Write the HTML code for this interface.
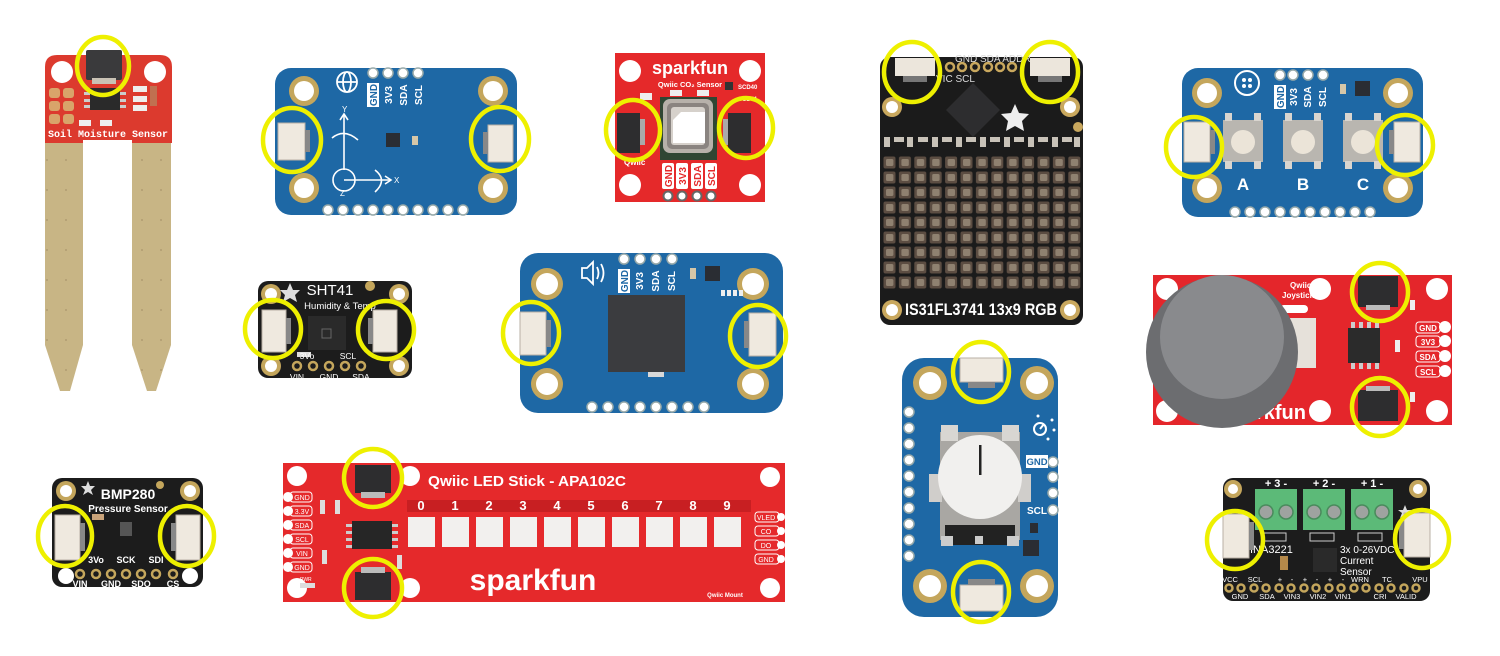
<!DOCTYPE html>
<html><head><meta charset="utf-8"><style>
html,body{margin:0;padding:0;background:#fff;width:1500px;height:656px;overflow:hidden;}
svg{display:block;}
text{font-family:"Liberation Sans",sans-serif;}
.mono{font-family:"Liberation Mono",monospace;}
</style></head><body>
<svg width="1500" height="656" viewBox="0 0 1500 656" xmlns="http://www.w3.org/2000/svg">
<defs>
 <pattern id="led" x="882" y="155" width="15.4" height="15" patternUnits="userSpaceOnUse">
   <rect x="1.5" y="1.5" width="12" height="12" rx="2" fill="#5c4d42"/>
   <rect x="4" y="4" width="7.4" height="7" rx="1.5" fill="#8f8170"/>
 </pattern>
 <pattern id="dots" x="0" y="0" width="19" height="30" patternUnits="userSpaceOnUse">
   <circle cx="9" cy="10" r="0.9" fill="#a8946a"/>
 </pattern>
</defs>
<rect width="1500" height="656" fill="#fff"/>

<!-- 1 Soil moisture sensor -->
<g>
 <polygon points="45,140 83,140 83,345 70,391 60,391 45,345" fill="#c8b585"/>
 <polygon points="132,140 171,140 171,345 156,391 147,391 132,345" fill="#c8b585"/>
 <polygon points="45,140 83,140 83,345 70,391 60,391 45,345" fill="url(#dots)"/>
 <polygon points="132,140 171,140 171,345 156,391 147,391 132,345" fill="url(#dots)"/>
 <path d="M45,67 Q45,55 57,55 L160,55 Q172,55 172,67 L172,143 L132,143 L132,140 L83,140 L83,143 L45,143 Z" fill="#dc3a2e"/>
 <circle cx="62" cy="72" r="11" fill="#fff"/>
 <circle cx="155" cy="72" r="11" fill="#fff"/>
 <rect x="86" y="50" width="36" height="30" rx="2" fill="#3a3a3c"/>
 <rect x="92" y="78" width="24" height="6" fill="#c9c2b5"/>
 <rect x="90" y="88" width="30" height="22" fill="#2a2a2a"/>
 <rect x="84" y="92" width="6" height="3" fill="#ccc"/><rect x="84" y="99" width="6" height="3" fill="#ccc"/><rect x="84" y="105" width="6" height="3" fill="#ccc"/>
 <rect x="120" y="92" width="6" height="3" fill="#ccc"/><rect x="120" y="99" width="6" height="3" fill="#ccc"/><rect x="120" y="105" width="6" height="3" fill="#ccc"/>
 <rect x="49" y="88" width="11" height="10" rx="3" fill="#d9a46a"/><rect x="63" y="88" width="11" height="10" rx="3" fill="#d9a46a"/>
 <rect x="49" y="101" width="11" height="10" rx="3" fill="#d9a46a"/><rect x="63" y="101" width="11" height="10" rx="3" fill="#d9a46a"/>
 <rect x="49" y="114" width="11" height="10" rx="3" fill="#d9a46a"/><rect x="63" y="114" width="11" height="10" rx="3" fill="#d9a46a"/>
 <rect x="133" y="86" width="14" height="6" fill="#eee"/><rect x="133" y="96" width="14" height="6" fill="#eee"/><rect x="133" y="105" width="14" height="6" fill="#eee"/>
 <rect x="150" y="86" width="7" height="20" fill="#c07050"/>
 <rect x="79" y="120" width="12" height="6" fill="#eee"/><rect x="100" y="120" width="12" height="6" fill="#eee"/>
 <text x="108" y="137" class="mono" font-size="10" font-weight="bold" fill="#fff" text-anchor="middle">Soil Moisture Sensor</text>
 <ellipse cx="103" cy="66" rx="26" ry="29" fill="none" stroke="#eef000" stroke-width="4.5"/>
</g>

<!-- 2 IMU blue board -->
<g>
 <rect x="275" y="68" width="242" height="147" rx="16" fill="#1e68a5"/>
 <g fill="#c4a65c"><circle cx="304" cy="91" r="15"/><circle cx="493" cy="91" r="15"/><circle cx="304" cy="188" r="15"/><circle cx="493" cy="188" r="15"/></g>
 <g fill="#fff"><circle cx="304" cy="91" r="10"/><circle cx="493" cy="91" r="10"/><circle cx="304" cy="188" r="10"/><circle cx="493" cy="188" r="10"/></g>
 <g fill="#fff" stroke="#9aa" stroke-width="1.5"><circle cx="373" cy="73" r="5"/><circle cx="388" cy="73" r="5"/><circle cx="403" cy="73" r="5"/><circle cx="418" cy="73" r="5"/></g>
 <g transform="translate(373,95) rotate(-90)"><rect x="-12" y="-6" width="24" height="12" fill="#fff"/><text x="0" y="4" font-size="10" font-weight="bold" fill="#1e68a5" text-anchor="middle">GND</text></g>
 <text transform="translate(392,95) rotate(-90)" font-size="10" font-weight="bold" fill="#fff" text-anchor="middle">3V3</text>
 <text transform="translate(407,95) rotate(-90)" font-size="10" font-weight="bold" fill="#fff" text-anchor="middle">SDA</text>
 <text transform="translate(422,95) rotate(-90)" font-size="10" font-weight="bold" fill="#fff" text-anchor="middle">SCL</text>
 <g fill="none" stroke="#fff" stroke-width="1.8"><circle cx="347" cy="82" r="10"/><ellipse cx="347" cy="82" rx="4" ry="10"/><line x1="337" y1="82" x2="357" y2="82"/></g>
 <g fill="none" stroke="#fff" stroke-width="1.6">
  <line x1="344" y1="170" x2="344" y2="115"/><polyline points="340,120 344,114 348,120"/>
  <line x1="344" y1="180" x2="390" y2="180"/><polyline points="385,176 391,180 385,184"/>
  <path d="M332,138 Q344,128 358,140"/>
  <circle cx="344" cy="180" r="11"/>
  <path d="M375,170 Q388,180 375,192"/>
 </g>
 <text x="342" y="112" font-size="8" fill="#fff">Y</text><text x="394" y="183" font-size="8" fill="#fff">X</text><text x="340" y="196" font-size="8" fill="#fff">Z</text>
 <rect x="386" y="133" width="14" height="14" fill="#2a2d33"/>
 <rect x="412" y="136" width="6" height="9" fill="#d6c7a8"/>
 <g fill="#fff" stroke="#9aa" stroke-width="1.5"><circle cx="328" cy="210" r="5"/><circle cx="343" cy="210" r="5"/><circle cx="358" cy="210" r="5"/><circle cx="373" cy="210" r="5"/><circle cx="388" cy="210" r="5"/><circle cx="403" cy="210" r="5"/><circle cx="418" cy="210" r="5"/><circle cx="433" cy="210" r="5"/><circle cx="448" cy="210" r="5"/><circle cx="463" cy="210" r="5"/></g>
 <rect x="278" y="123" width="27" height="37" fill="#efe9df" stroke="#b9b0a4"/>
 <rect x="305" y="130" width="5" height="22" fill="#888"/>
 <rect x="488" y="125" width="25" height="37" fill="#efe9df" stroke="#b9b0a4"/>
 <rect x="483" y="132" width="5" height="22" fill="#888"/>
 <ellipse cx="292" cy="140" rx="29" ry="32" fill="none" stroke="#eef000" stroke-width="4.5"/>
 <ellipse cx="500" cy="139" rx="29" ry="32" fill="none" stroke="#eef000" stroke-width="4.5"/>
</g>

<!-- 3 SparkFun CO2 sensor -->
<g>
 <rect x="615" y="53" width="150" height="149" fill="#e5292a"/>
 <g fill="#fff"><circle cx="630" cy="71" r="11"/><circle cx="750" cy="71" r="11"/><circle cx="630" cy="185" r="11"/><circle cx="750" cy="185" r="11"/></g>
 <text x="690" y="74" font-size="18" font-weight="bold" fill="#fff" text-anchor="middle">sparkfun</text>
 <text x="690" y="87" font-size="7.5" font-weight="bold" fill="#fff" text-anchor="middle">Qwiic CO₂ Sensor</text>
 <rect x="725" y="82" width="8" height="8" fill="#333"/>
 <text x="738" y="89" font-size="6" font-weight="bold" fill="#fff">SCD40</text>
 <text x="738" y="101" font-size="6" font-weight="bold" fill="#fff">SCD41</text>
 <rect x="660" y="97" width="57" height="63" fill="#2f4633"/>
 <rect x="663" y="99" width="50" height="54" rx="7" fill="#b7b1aa"/>
 <rect x="667" y="103" width="42" height="46" rx="5" fill="#8a8480"/>
 <rect x="671" y="107" width="34" height="38" rx="3" fill="#d6d1cb"/>
 <polygon points="681,112 705,112 705,143 673,143 673,120" fill="#fff"/>
 <rect x="640" y="93" width="12" height="7" fill="#eee"/><rect x="670" y="90" width="12" height="6" fill="#eee"/><rect x="697" y="90" width="12" height="6" fill="#eee"/>
 <rect x="617" y="113" width="23" height="40" fill="#2d2d2f"/>
 <rect x="640" y="119" width="5" height="26" fill="#aaa"/>
 <rect x="728" y="113" width="23" height="40" fill="#2d2d2f"/>
 <rect x="723" y="119" width="5" height="26" fill="#aaa"/>
 <text x="624" y="165" font-size="8" font-weight="bold" fill="#fff">Qwiic</text>
 <g transform="translate(668,176) rotate(-90)"><rect x="-13" y="-6" width="26" height="12" rx="2" fill="#fff"/><text x="0" y="4" font-size="10" font-weight="bold" fill="#e5292a" text-anchor="middle">GND</text></g>
 <g transform="translate(682,176) rotate(-90)"><rect x="-13" y="-6" width="26" height="12" rx="2" fill="#fff"/><text x="0" y="4" font-size="10" font-weight="bold" fill="#e5292a" text-anchor="middle">3V3</text></g>
 <g transform="translate(697,176) rotate(-90)"><rect x="-13" y="-6" width="26" height="12" rx="2" fill="#fff"/><text x="0" y="4" font-size="10" font-weight="bold" fill="#e5292a" text-anchor="middle">SDA</text></g>
 <g transform="translate(711,176) rotate(-90)"><rect x="-13" y="-6" width="26" height="12" rx="2" fill="#fff"/><text x="0" y="4" font-size="10" font-weight="bold" fill="#e5292a" text-anchor="middle">SCL</text></g>
 <g fill="#fff" stroke="#666" stroke-width="2"><circle cx="668" cy="196" r="4.5"/><circle cx="682" cy="196" r="4.5"/><circle cx="697" cy="196" r="4.5"/><circle cx="711" cy="196" r="4.5"/></g>
 <ellipse cx="633" cy="130" rx="27" ry="30" fill="none" stroke="#eef000" stroke-width="4.5"/>
 <ellipse cx="746" cy="128" rx="27" ry="30" fill="none" stroke="#eef000" stroke-width="4.5"/>
</g>

<!-- 4 LED matrix -->
<g>
 <rect x="880" y="57" width="203" height="268" rx="10" fill="#1b1b1b"/>
 <rect x="882" y="155" width="200" height="135" fill="url(#led)"/>
 <g fill="#c8c2b8">
  <rect x="884" y="137" width="6" height="10"/><rect x="894" y="137" width="10" height="5"/><rect x="907" y="137" width="6" height="10"/><rect x="918" y="137" width="10" height="5"/><rect x="932" y="137" width="6" height="10"/><rect x="942" y="137" width="10" height="5"/><rect x="956" y="137" width="6" height="10"/><rect x="966" y="137" width="10" height="5"/><rect x="980" y="137" width="6" height="10"/><rect x="990" y="137" width="10" height="5"/><rect x="1004" y="137" width="6" height="10"/><rect x="1014" y="137" width="10" height="5"/><rect x="1028" y="137" width="6" height="10"/><rect x="1038" y="137" width="10" height="5"/><rect x="1052" y="137" width="6" height="10"/><rect x="1062" y="137" width="10" height="5"/><rect x="1074" y="137" width="6" height="10"/>
 </g>
 <polygon points="973,83 1000,110 973,137 946,110" fill="#2d2d2f"/>
 <polygon points="1015,104 1019,113 1029,114 1022,121 1024,131 1015,126 1006,131 1008,121 1001,114 1011,113" fill="#eee"/>
 <g fill="#c9a85e"><circle cx="892" cy="107" r="10"/><circle cx="1070" cy="107" r="10"/><circle cx="892" cy="310" r="10"/><circle cx="1070" cy="310" r="10"/></g>
 <g fill="#fff"><circle cx="892" cy="107" r="6"/><circle cx="1070" cy="107" r="6"/><circle cx="892" cy="310" r="6"/><circle cx="1070" cy="310" r="6"/></g>
 <circle cx="1078" cy="127" r="5" fill="#c9a85e"/>
 <g fill="none" stroke="#c9a85e" stroke-width="2.5"><circle cx="950" cy="67" r="4"/><circle cx="962" cy="67" r="4"/><circle cx="975" cy="67" r="4"/><circle cx="988" cy="67" r="4"/><circle cx="1000" cy="67" r="4"/><circle cx="1012" cy="67" r="4"/></g>
 <text x="955" y="62" font-size="10" fill="#ddd">GND  SDA ADDR</text>
 <text x="936" y="82" font-size="10" fill="#ddd">VIC  SCL</text>
 <rect x="895" y="58" width="40" height="18" fill="#ece6dc"/>
 <rect x="903" y="76" width="24" height="6" fill="#777"/>
 <rect x="1030" y="58" width="40" height="18" fill="#ece6dc"/>
 <rect x="1038" y="76" width="24" height="6" fill="#777"/>
 <text x="981" y="315" font-size="17" font-weight="bold" fill="#fff" text-anchor="middle" textLength="152" lengthAdjust="spacingAndGlyphs">IS31FL3741 13x9 RGB</text>
 <ellipse cx="912" cy="72" rx="28" ry="30" fill="none" stroke="#eef000" stroke-width="4.5"/>
 <ellipse cx="1050" cy="72" rx="28" ry="30" fill="none" stroke="#eef000" stroke-width="4.5"/>
</g>

<!-- 5 Buttons blue board -->
<g>
 <rect x="1182" y="68" width="241" height="149" rx="16" fill="#1e68a5"/>
 <g fill="#c4a65c"><circle cx="1207" cy="93" r="15"/><circle cx="1398" cy="93" r="15"/><circle cx="1207" cy="188" r="15"/><circle cx="1398" cy="188" r="15"/></g>
 <g fill="#fff"><circle cx="1207" cy="93" r="10"/><circle cx="1398" cy="93" r="10"/><circle cx="1207" cy="188" r="10"/><circle cx="1398" cy="188" r="10"/></g>
 <g fill="none" stroke="#fff" stroke-width="2"><circle cx="1247" cy="83" r="12"/></g>
 <g fill="#fff"><circle cx="1244" cy="80" r="2"/><circle cx="1250" cy="80" r="2"/><circle cx="1244" cy="86" r="2"/><circle cx="1250" cy="86" r="2"/></g>
 <g fill="#fff" stroke="#9aa" stroke-width="1.5"><circle cx="1280" cy="75" r="5"/><circle cx="1293" cy="75" r="5"/><circle cx="1308" cy="75" r="5"/><circle cx="1323" cy="75" r="5"/></g>
 <g transform="translate(1280,97) rotate(-90)"><rect x="-12" y="-6" width="24" height="12" fill="#fff"/><text x="0" y="4" font-size="10" font-weight="bold" fill="#1e68a5" text-anchor="middle">GND</text></g>
 <text transform="translate(1297,97) rotate(-90)" font-size="10" font-weight="bold" fill="#fff" text-anchor="middle">3V3</text>
 <text transform="translate(1311,97) rotate(-90)" font-size="10" font-weight="bold" fill="#fff" text-anchor="middle">SDA</text>
 <text transform="translate(1326,97) rotate(-90)" font-size="10" font-weight="bold" fill="#fff" text-anchor="middle">SCL</text>
 <rect x="1355" y="81" width="15" height="15" fill="#2a2d33"/>
 <rect x="1340" y="84" width="6" height="10" fill="#d6c7a8"/>
 <g fill="#b9b6b0">
  <rect x="1223" y="120" width="40" height="42"/><rect x="1283" y="120" width="40" height="42"/><rect x="1343" y="120" width="40" height="42"/>
 </g>
 <g fill="#d9d5cf">
  <rect x="1225" y="113" width="7" height="8"/><rect x="1254" y="113" width="7" height="8"/><rect x="1225" y="161" width="7" height="8"/><rect x="1254" y="161" width="7" height="8"/>
  <rect x="1285" y="113" width="7" height="8"/><rect x="1314" y="113" width="7" height="8"/><rect x="1285" y="161" width="7" height="8"/><rect x="1314" y="161" width="7" height="8"/>
  <rect x="1345" y="113" width="7" height="8"/><rect x="1374" y="113" width="7" height="8"/><rect x="1345" y="161" width="7" height="8"/><rect x="1374" y="161" width="7" height="8"/>
 </g>
 <g fill="#ebe4d8"><circle cx="1243" cy="142" r="12"/><circle cx="1303" cy="142" r="12"/><circle cx="1363" cy="142" r="12"/></g>
 <text x="1243" y="190" font-size="17" font-weight="bold" fill="#fff" text-anchor="middle">A</text>
 <text x="1303" y="190" font-size="17" font-weight="bold" fill="#fff" text-anchor="middle">B</text>
 <text x="1363" y="190" font-size="17" font-weight="bold" fill="#fff" text-anchor="middle">C</text>
 <g fill="#fff" stroke="#9aa" stroke-width="1.5"><circle cx="1235" cy="212" r="5"/><circle cx="1250" cy="212" r="5"/><circle cx="1265" cy="212" r="5"/><circle cx="1280" cy="212" r="5"/><circle cx="1295" cy="212" r="5"/><circle cx="1310" cy="212" r="5"/><circle cx="1325" cy="212" r="5"/><circle cx="1340" cy="212" r="5"/><circle cx="1355" cy="212" r="5"/><circle cx="1370" cy="212" r="5"/></g>
 <rect x="1184" y="122" width="26" height="40" fill="#efe9df" stroke="#b9b0a4"/>
 <rect x="1210" y="130" width="5" height="24" fill="#888"/>
 <rect x="1394" y="122" width="26" height="40" fill="#efe9df" stroke="#b9b0a4"/>
 <rect x="1389" y="130" width="5" height="24" fill="#888"/>
 <ellipse cx="1194" cy="147" rx="28" ry="30" fill="none" stroke="#eef000" stroke-width="4.5"/>
 <ellipse cx="1405" cy="145" rx="28" ry="30" fill="none" stroke="#eef000" stroke-width="4.5"/>
</g>

<!-- 6 SHT41 -->
<g>
 <rect x="258" y="281" width="154" height="97" rx="10" fill="#1c1c1c"/>
 <g fill="#c4a65c"><circle cx="271" cy="294" r="10"/><circle cx="399" cy="294" r="10"/><circle cx="271" cy="366" r="10"/><circle cx="399" cy="366" r="10"/></g>
 <g fill="#fff"><circle cx="271" cy="294" r="6"/><circle cx="399" cy="294" r="6"/><circle cx="271" cy="366" r="6"/><circle cx="399" cy="366" r="6"/></g>
 <circle cx="370" cy="286" r="5" fill="#c4a65c"/>
 <polygon points="290,283 293,290 300,290 295,295 297,302 290,298 283,302 285,295 280,290 287,290" fill="#ddd"/>
 <text x="330" y="295" font-size="15" fill="#fff" text-anchor="middle">SHT41</text>
 <text x="340" y="309" font-size="9.5" fill="#fff" text-anchor="middle">Humidity &amp; Temp</text>
 <rect x="308" y="316" width="38" height="34" fill="#2a2a2a"/>
 <rect x="322" y="329" width="9" height="9" fill="none" stroke="#666"/>
 <rect x="297" y="352" width="14" height="5" fill="#ddd"/>
 <rect x="262" y="310" width="24" height="42" fill="#efe9df" stroke="#b9b0a4"/>
 <rect x="286" y="318" width="5" height="26" fill="#888"/>
 <rect x="373" y="310" width="24" height="42" fill="#efe9df" stroke="#b9b0a4"/>
 <rect x="368" y="318" width="5" height="26" fill="#888"/>
 <text x="307" y="359" font-size="8.5" fill="#fff" text-anchor="middle">3Vo</text>
 <text x="348" y="359" font-size="8.5" fill="#fff" text-anchor="middle">SCL</text>
 <g fill="#1c1c1c" stroke="#c4a65c" stroke-width="2.5"><circle cx="297" cy="366" r="4"/><circle cx="313" cy="366" r="4"/><circle cx="329" cy="366" r="4"/><circle cx="345" cy="366" r="4"/><circle cx="361" cy="366" r="4"/></g>
 <text x="297" y="380" font-size="8.5" fill="#fff" text-anchor="middle">VIN</text>
 <text x="329" y="380" font-size="8.5" fill="#fff" text-anchor="middle">GND</text>
 <text x="361" y="380" font-size="8.5" fill="#fff" text-anchor="middle">SDA</text>
 <ellipse cx="273" cy="329" rx="28" ry="29" fill="none" stroke="#eef000" stroke-width="4.5"/>
 <ellipse cx="386" cy="330" rx="28" ry="29" fill="none" stroke="#eef000" stroke-width="4.5"/>
</g>

<!-- 7 Speaker blue board -->
<g>
 <rect x="520" y="253" width="263" height="160" rx="18" fill="#1e68a5"/>
 <g fill="#c4a65c"><circle cx="547" cy="284" r="16"/><circle cx="753" cy="284" r="16"/><circle cx="547" cy="384" r="16"/><circle cx="753" cy="384" r="16"/></g>
 <g fill="#fff"><circle cx="547" cy="284" r="11"/><circle cx="753" cy="284" r="11"/><circle cx="547" cy="384" r="11"/><circle cx="753" cy="384" r="11"/></g>
 <g fill="none" stroke="#fff" stroke-width="1.8"><polygon points="582,268 587,268 593,262 593,284 587,278 582,278"/><path d="M597,267 Q600,273 597,279"/><path d="M601,264 Q606,273 601,282"/></g>
 <g fill="#fff" stroke="#9aa" stroke-width="1.5"><circle cx="624" cy="259" r="5"/><circle cx="640" cy="259" r="5"/><circle cx="656" cy="259" r="5"/><circle cx="672" cy="259" r="5"/></g>
 <g transform="translate(624,281) rotate(-90)"><rect x="-12" y="-6" width="24" height="12" fill="#fff"/><text x="0" y="4" font-size="10" font-weight="bold" fill="#1e68a5" text-anchor="middle">GND</text></g>
 <text transform="translate(643,281) rotate(-90)" font-size="10" font-weight="bold" fill="#fff" text-anchor="middle">3V3</text>
 <text transform="translate(659,281) rotate(-90)" font-size="10" font-weight="bold" fill="#fff" text-anchor="middle">SDA</text>
 <text transform="translate(675,281) rotate(-90)" font-size="10" font-weight="bold" fill="#fff" text-anchor="middle">SCL</text>
 <rect x="705" y="266" width="15" height="15" fill="#2a2d33"/>
 <rect x="690" y="268" width="6" height="11" fill="#d6c7a8"/>
 <g fill="#eee"><rect x="721" y="290" width="4" height="6"/><rect x="727" y="290" width="4" height="6"/><rect x="733" y="290" width="4" height="6"/><rect x="739" y="290" width="4" height="6"/></g>
 <rect x="608" y="295" width="77" height="77" fill="#3b3c3f"/>
 <rect x="648" y="372" width="16" height="5" fill="#d8d8d8"/>
 <g fill="#fff" stroke="#9aa" stroke-width="1.5"><circle cx="592" cy="407" r="5"/><circle cx="608" cy="407" r="5"/><circle cx="624" cy="407" r="5"/><circle cx="640" cy="407" r="5"/><circle cx="656" cy="407" r="5"/><circle cx="672" cy="407" r="5"/><circle cx="688" cy="407" r="5"/><circle cx="704" cy="407" r="5"/></g>
 <rect x="520" y="312" width="26" height="43" fill="#efe9df" stroke="#b9b0a4"/>
 <rect x="546" y="320" width="5" height="27" fill="#888"/>
 <rect x="749" y="313" width="27" height="43" fill="#efe9df" stroke="#b9b0a4"/>
 <rect x="744" y="321" width="5" height="27" fill="#888"/>
 <ellipse cx="531" cy="333" rx="28" ry="31" fill="none" stroke="#eef000" stroke-width="4.5"/>
 <ellipse cx="758" cy="336" rx="28" ry="31" fill="none" stroke="#eef000" stroke-width="4.5"/>
</g>

<!-- 8 Rotary encoder -->
<g>
 <rect x="902" y="358" width="156" height="259" rx="22" fill="#1e68a5"/>
 <g fill="#c4a65c"><circle cx="930" cy="383" r="17"/><circle cx="1037" cy="383" r="17"/><circle cx="930" cy="586" r="17"/><circle cx="1037" cy="586" r="17"/></g>
 <g fill="#fff"><circle cx="930" cy="383" r="11"/><circle cx="1037" cy="383" r="11"/><circle cx="930" cy="586" r="11"/><circle cx="1037" cy="586" r="11"/></g>
 <g fill="#fff" stroke="#9aa" stroke-width="1.5"><circle cx="909" cy="412" r="5"/><circle cx="909" cy="428" r="5"/><circle cx="909" cy="444" r="5"/><circle cx="909" cy="460" r="5"/><circle cx="909" cy="476" r="5"/><circle cx="909" cy="492" r="5"/><circle cx="909" cy="508" r="5"/><circle cx="909" cy="524" r="5"/><circle cx="909" cy="540" r="5"/><circle cx="909" cy="556" r="5"/>
 <circle cx="1053" cy="462" r="5"/><circle cx="1053" cy="477" r="5"/><circle cx="1053" cy="493" r="5"/><circle cx="1053" cy="510" r="5"/></g>
 <rect x="1026" y="455" width="22" height="13" fill="#fff"/>
 <text x="1037" y="465" font-size="9.5" font-weight="bold" fill="#1e68a5" text-anchor="middle">GND</text>
 <text x="1037" y="514" font-size="10" font-weight="bold" fill="#fff" text-anchor="middle">SCL</text>
 <g fill="none" stroke="#fff" stroke-width="2"><circle cx="1040" cy="429" r="6"/><line x1="1040" y1="429" x2="1044" y2="424"/></g>
 <g fill="#fff"><circle cx="1052" cy="420" r="1.5"/><circle cx="1054" cy="430" r="1.5"/><circle cx="1048" cy="439" r="1.5"/><circle cx="1038" cy="416" r="1.5"/></g>
 <rect x="940" y="432" width="80" height="108" fill="#a9a7a3"/>
 <rect x="941" y="425" width="17" height="16" fill="#d8d6d2"/><rect x="1002" y="425" width="17" height="16" fill="#d8d6d2"/>
 <rect x="929" y="474" width="13" height="28" fill="#d0cecb"/><rect x="1018" y="474" width="13" height="28" fill="#d0cecb"/>
 <rect x="945" y="525" width="70" height="20" fill="#222"/>
 <g fill="#ccc"><rect x="941" y="536" width="12" height="10"/><rect x="975" y="536" width="8" height="8"/><rect x="1007" y="536" width="12" height="10"/></g>
 <circle cx="980" cy="477" r="42" fill="#f1f0ee"/>
 <rect x="979" y="445" width="2.5" height="30" fill="#222"/>
 <rect x="1023" y="540" width="16" height="16" fill="#2a2d33"/>
 <rect x="1030" y="523" width="8" height="10" fill="#2a2d33"/>
 <rect x="960" y="358" width="43" height="24" fill="#efe9df" stroke="#b9b0a4"/>
 <rect x="968" y="382" width="27" height="6" fill="#888"/>
 <rect x="960" y="585" width="43" height="26" fill="#efe9df" stroke="#b9b0a4"/>
 <rect x="968" y="579" width="27" height="6" fill="#888"/>
 <ellipse cx="981" cy="372" rx="28" ry="30" fill="none" stroke="#eef000" stroke-width="4.5"/>
 <ellipse cx="981" cy="592" rx="28" ry="30" fill="none" stroke="#eef000" stroke-width="4.5"/>
</g>

<!-- 9 Joystick -->
<g>
 <rect x="1153" y="275" width="299" height="150" fill="#e4262b"/>
 <g fill="#fff"><circle cx="1167" cy="289" r="11"/><circle cx="1320" cy="289" r="11"/><circle cx="1437" cy="289" r="11"/><circle cx="1167" cy="411" r="11"/><circle cx="1320" cy="411" r="11"/><circle cx="1437" cy="411" r="11"/></g>
 <text x="1290" y="288" font-size="8" font-weight="bold" fill="#fff">Qwiic</text>
 <text x="1282" y="298" font-size="8" font-weight="bold" fill="#fff">Joystick</text>
 <rect x="1280" y="305" width="28" height="8" rx="4" fill="#fff"/>
 <rect x="1290" y="318" width="26" height="50" fill="#e6e1da"/>
 <text x="1306" y="419" font-size="20" font-weight="bold" fill="#fff" text-anchor="end">sparkfun</text>
 <circle cx="1222" cy="352" r="76" fill="#6c6d70"/>
 <circle cx="1222" cy="337" r="62" fill="#898a8d"/>
 <rect x="1358" y="276" width="40" height="31" fill="#2d2d2f"/>
 <rect x="1366" y="305" width="24" height="5" fill="#bbb"/>
 <rect x="1348" y="328" width="32" height="35" fill="#2b2b2b"/>
 <g fill="#ccc"><rect x="1351" y="322" width="4" height="6"/><rect x="1359" y="322" width="4" height="6"/><rect x="1367" y="322" width="4" height="6"/><rect x="1375" y="322" width="4" height="6"/><rect x="1351" y="363" width="4" height="6"/><rect x="1359" y="363" width="4" height="6"/><rect x="1367" y="363" width="4" height="6"/><rect x="1375" y="363" width="4" height="6"/></g>
 <rect x="1358" y="390" width="40" height="31" fill="#2d2d2f"/>
 <rect x="1366" y="386" width="24" height="5" fill="#bbb"/>
 <g fill="#e4262b" stroke="#fff" stroke-width="1"><rect x="1416" y="322" width="24" height="11" rx="3"/><rect x="1416" y="336" width="24" height="11" rx="3"/><rect x="1416" y="351" width="24" height="11" rx="3"/><rect x="1416" y="366" width="24" height="11" rx="3"/></g>
 <g font-size="8" font-weight="bold" fill="#fff" text-anchor="middle"><text x="1428" y="331">GND</text><text x="1428" y="345">3V3</text><text x="1428" y="360">SDA</text><text x="1428" y="375">SCL</text></g>
 <g fill="#fff"><circle cx="1445" cy="327" r="6"/><circle cx="1445" cy="341" r="6"/><circle cx="1445" cy="356" r="6"/><circle cx="1445" cy="371" r="6"/></g>
 <g fill="#eee"><rect x="1410" y="300" width="5" height="10"/><rect x="1410" y="392" width="5" height="10"/><rect x="1395" y="340" width="5" height="12"/></g>
 <ellipse cx="1380" cy="292" rx="28" ry="29" fill="none" stroke="#eef000" stroke-width="4.5"/>
 <ellipse cx="1380" cy="407" rx="28" ry="29" fill="none" stroke="#eef000" stroke-width="4.5"/>
</g>

<!-- 10 BMP280 -->
<g>
 <rect x="52" y="478" width="151" height="109" rx="10" fill="#1c1c1c"/>
 <g fill="#c4a65c"><circle cx="66" cy="491" r="10"/><circle cx="190" cy="491" r="10"/></g>
 <g fill="#fff"><circle cx="66" cy="491" r="6"/><circle cx="190" cy="491" r="6"/><circle cx="66" cy="576" r="8"/><circle cx="190" cy="576" r="8"/></g>
 <circle cx="160" cy="485" r="4" fill="#c4a65c"/>
 <polygon points="88,481 90,486 95,486 91,490 93,495 88,492 83,495 85,490 81,486 86,486" fill="#ddd"/>
 <text x="128" y="499" font-size="14" font-weight="bold" fill="#fff" text-anchor="middle">BMP280</text>
 <text x="128" y="512" font-size="10" font-weight="bold" fill="#fff" text-anchor="middle">Pressure Sensor</text>
 <rect x="120" y="522" width="12" height="14" fill="#555"/>
 <rect x="92" y="514" width="12" height="6" fill="#c9a37a"/>
 <rect x="55" y="515" width="25" height="45" fill="#efe9df" stroke="#b9b0a4"/>
 <rect x="80" y="523" width="5" height="28" fill="#888"/>
 <rect x="176" y="515" width="24" height="45" fill="#efe9df" stroke="#b9b0a4"/>
 <rect x="171" y="523" width="5" height="28" fill="#888"/>
 <g font-size="9" font-weight="bold" fill="#fff" text-anchor="middle"><text x="96" y="563">3Vo</text><text x="126" y="563">SCK</text><text x="156" y="563">SDI</text>
 <text x="80" y="587">VIN</text><text x="111" y="587">GND</text><text x="141" y="587">SDO</text><text x="173" y="587">CS</text></g>
 <g fill="#1c1c1c" stroke="#c4a65c" stroke-width="2.5"><circle cx="80" cy="574" r="4"/><circle cx="96" cy="574" r="4"/><circle cx="111" cy="574" r="4"/><circle cx="126" cy="574" r="4"/><circle cx="141" cy="574" r="4"/><circle cx="156" cy="574" r="4"/><circle cx="173" cy="574" r="4"/></g>
 <ellipse cx="65" cy="536" rx="27" ry="30" fill="none" stroke="#eef000" stroke-width="4.5"/>
 <ellipse cx="187" cy="536" rx="27" ry="30" fill="none" stroke="#eef000" stroke-width="4.5"/>
</g>

<!-- 11 LED stick -->
<g>
 <rect x="283" y="463" width="502" height="139" fill="#e5292b"/>
 <g fill="#fff"><circle cx="297" cy="476" r="10"/><circle cx="410" cy="476" r="10"/><circle cx="297" cy="588" r="10"/><circle cx="410" cy="588" r="10"/><circle cx="770" cy="477" r="10"/><circle cx="770" cy="588" r="10"/></g>
 <text x="527" y="486" font-size="15" font-weight="bold" fill="#fff" text-anchor="middle" textLength="198" lengthAdjust="spacingAndGlyphs">Qwiic LED Stick - APA102C</text>
 <rect x="407" y="500" width="344" height="12" fill="#c81f22"/>
 <g font-size="13" font-weight="bold" fill="#fff" text-anchor="middle">
  <text x="421" y="510">0</text><text x="455" y="510">1</text><text x="489" y="510">2</text><text x="523" y="510">3</text><text x="557" y="510">4</text><text x="591" y="510">5</text><text x="625" y="510">6</text><text x="659" y="510">7</text><text x="693" y="510">8</text><text x="727" y="510">9</text>
 </g>
 <g fill="#f2f0ee">
  <rect x="408" y="517" width="27" height="30"/><rect x="442" y="517" width="27" height="30"/><rect x="476" y="517" width="27" height="30"/><rect x="510" y="517" width="27" height="30"/><rect x="544" y="517" width="27" height="30"/><rect x="578" y="517" width="27" height="30"/><rect x="612" y="517" width="27" height="30"/><rect x="646" y="517" width="27" height="30"/><rect x="680" y="517" width="27" height="30"/><rect x="714" y="517" width="27" height="30"/>
 </g>
 <text x="533" y="590" font-size="30" font-weight="bold" fill="#fff" text-anchor="middle">sparkfun</text>
 <text x="725" y="597" font-size="6" font-weight="bold" fill="#fff" text-anchor="middle">Qwiic Mount</text>
 <g fill="#e5292b" stroke="#fff" stroke-width="1"><rect x="290" y="492" width="22" height="10" rx="3"/><rect x="290" y="506" width="22" height="10" rx="3"/><rect x="290" y="520" width="22" height="10" rx="3"/><rect x="290" y="534" width="22" height="10" rx="3"/><rect x="290" y="548" width="22" height="10" rx="3"/><rect x="290" y="562" width="22" height="10" rx="3"/></g>
 <g font-size="7" fill="#fff" text-anchor="middle"><text x="302" y="500">GND</text><text x="302" y="514">3.3V</text><text x="302" y="528">SDA</text><text x="302" y="542">SCL</text><text x="302" y="556">VIN</text><text x="302" y="570">GND</text></g>
 <g fill="#fff"><circle cx="288" cy="497" r="5"/><circle cx="288" cy="511" r="5"/><circle cx="288" cy="525" r="5"/><circle cx="288" cy="539" r="5"/><circle cx="288" cy="553" r="5"/><circle cx="288" cy="567" r="5"/></g>
 <g fill="#e5292b" stroke="#fff" stroke-width="1"><rect x="755" y="512" width="24" height="10" rx="3"/><rect x="755" y="526" width="24" height="10" rx="3"/><rect x="755" y="540" width="24" height="10" rx="3"/><rect x="755" y="554" width="24" height="10" rx="3"/></g>
 <g font-size="7" fill="#fff" text-anchor="middle"><text x="766" y="520">VLED</text><text x="766" y="534">CO</text><text x="766" y="548">DO</text><text x="766" y="562">GND</text></g>
 <g fill="#fff"><circle cx="781" cy="517" r="4"/><circle cx="781" cy="531" r="4"/><circle cx="781" cy="545" r="4"/><circle cx="781" cy="559" r="4"/></g>
 <g fill="#ddd"><rect x="320" y="500" width="5" height="14"/><rect x="335" y="500" width="5" height="14"/><rect x="322" y="550" width="5" height="14"/><rect x="397" y="555" width="5" height="14"/></g>
 <rect x="300" y="583" width="15" height="5" fill="#ddd"/>
 <text x="300" y="581" font-size="5" fill="#fff">PWR</text>
 <rect x="352" y="521" width="40" height="28" fill="#262626"/>
 <g fill="#ccc"><rect x="346" y="524" width="6" height="3"/><rect x="346" y="531" width="6" height="3"/><rect x="346" y="538" width="6" height="3"/><rect x="346" y="545" width="6" height="3"/><rect x="392" y="524" width="6" height="3"/><rect x="392" y="531" width="6" height="3"/><rect x="392" y="538" width="6" height="3"/><rect x="392" y="545" width="6" height="3"/></g>
 <rect x="355" y="465" width="36" height="28" fill="#2d2d2f"/>
 <rect x="361" y="492" width="24" height="6" fill="#bbb"/>
 <rect x="355" y="572" width="36" height="28" fill="#2d2d2f"/>
 <rect x="361" y="567" width="24" height="6" fill="#bbb"/>
 <ellipse cx="373" cy="478" rx="29" ry="29" fill="none" stroke="#eef000" stroke-width="4.5"/>
 <ellipse cx="373" cy="588" rx="29" ry="29" fill="none" stroke="#eef000" stroke-width="4.5"/>
</g>

<!-- 12 INA3221 -->
<g>
 <rect x="1223" y="478" width="207" height="123" rx="10" fill="#1c1c1c"/>
 <g fill="#c4a65c"><circle cx="1233" cy="489" r="9"/><circle cx="1418" cy="489" r="9"/></g>
 <g fill="#fff"><circle cx="1233" cy="489" r="5"/><circle cx="1418" cy="489" r="5"/></g>
 <g font-size="11" font-weight="bold" fill="#fff" text-anchor="middle"><text x="1276" y="487">+ 3 -</text><text x="1324" y="487">+ 2 -</text><text x="1372" y="487">+ 1 -</text></g>
 <g fill="#5cba78"><rect x="1255" y="489" width="42" height="41"/><rect x="1303" y="489" width="42" height="41"/><rect x="1351" y="489" width="42" height="41"/></g>
 <g fill="#9fa3a0" stroke="#4a8a5c" stroke-width="1.5"><circle cx="1266" cy="512" r="7"/><circle cx="1286" cy="512" r="7"/><circle cx="1314" cy="512" r="7"/><circle cx="1334" cy="512" r="7"/><circle cx="1362" cy="512" r="7"/><circle cx="1382" cy="512" r="7"/></g>
 <g fill="none" stroke="#ccc" stroke-width="1"><rect x="1262" y="533" width="24" height="8"/><rect x="1310" y="533" width="24" height="8"/><rect x="1358" y="533" width="24" height="8"/></g>
 <rect x="1313" y="548" width="24" height="24" fill="#2a2a2a"/>
 <rect x="1280" y="556" width="8" height="14" fill="#b5894a"/>
 <text x="1250" y="553" font-size="11" fill="#fff">INA3221</text>
 <text x="1340" y="553" font-size="10" fill="#fff">3x 0-26VDC</text>
 <text x="1340" y="564" font-size="10" fill="#fff">Current</text>
 <text x="1340" y="575" font-size="10" fill="#fff">Sensor</text>
 <g font-size="7.5" fill="#fff" text-anchor="middle"><text x="1230" y="582">VCC</text><text x="1255" y="582">SCL</text><text x="1280" y="582">+</text><text x="1292" y="582">-</text><text x="1305" y="582">+</text><text x="1317" y="582">-</text><text x="1330" y="582">+</text><text x="1343" y="582">-</text><text x="1360" y="582">WRN</text><text x="1387" y="582">TC</text><text x="1420" y="582">VPU</text>
 <text x="1240" y="599">GND</text><text x="1267" y="599">SDA</text><text x="1292" y="599">VIN3</text><text x="1318" y="599">VIN2</text><text x="1343" y="599">VIN1</text><text x="1380" y="599">CRI</text><text x="1406" y="599">VALID</text></g>
 <g fill="#1c1c1c" stroke="#c4a65c" stroke-width="2.5"><circle cx="1229" cy="588" r="3.5"/><circle cx="1241" cy="588" r="3.5"/><circle cx="1254" cy="588" r="3.5"/><circle cx="1266" cy="588" r="3.5"/><circle cx="1279" cy="588" r="3.5"/><circle cx="1291" cy="588" r="3.5"/><circle cx="1304" cy="588" r="3.5"/><circle cx="1316" cy="588" r="3.5"/><circle cx="1329" cy="588" r="3.5"/><circle cx="1341" cy="588" r="3.5"/><circle cx="1354" cy="588" r="3.5"/><circle cx="1366" cy="588" r="3.5"/><circle cx="1379" cy="588" r="3.5"/><circle cx="1391" cy="588" r="3.5"/><circle cx="1404" cy="588" r="3.5"/><circle cx="1416" cy="588" r="3.5"/></g>
 <polygon points="1405,505 1407,510 1412,510 1408,513 1410,518 1405,515 1400,518 1402,513 1398,510 1403,510" fill="#ddd"/>
 <rect x="1223" y="514" width="26" height="44" fill="#efe9df" stroke="#b9b0a4"/>
 <rect x="1249" y="522" width="5" height="28" fill="#888"/>
 <rect x="1404" y="513" width="26" height="44" fill="#efe9df" stroke="#b9b0a4"/>
 <rect x="1399" y="521" width="5" height="28" fill="#888"/>
 <ellipse cx="1235" cy="540" rx="28" ry="29" fill="none" stroke="#eef000" stroke-width="4.5"/>
 <ellipse cx="1422" cy="539" rx="27" ry="29" fill="none" stroke="#eef000" stroke-width="4.5"/>
</g>
</svg>
</body></html>
